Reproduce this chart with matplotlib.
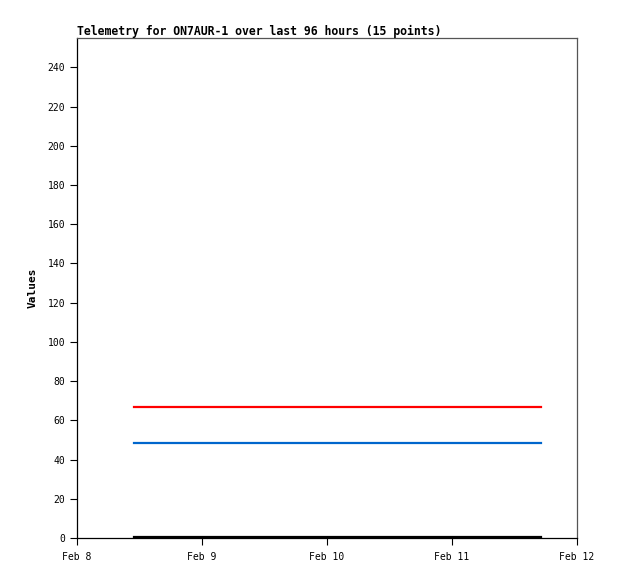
import matplotlib
matplotlib.use("Agg")
import matplotlib.pyplot as plt
import matplotlib.dates as mdates
from datetime import datetime

# telemetry samples (15 points), values constant over the window
times = ["2024-02-08 10:56", "2024-02-08 16:40", "2024-02-08 22:15", "2024-02-09 04:02",
         "2024-02-09 09:48", "2024-02-09 15:30", "2024-02-09 21:12", "2024-02-10 02:55",
         "2024-02-10 08:40", "2024-02-10 14:22", "2024-02-10 20:05", "2024-02-11 01:50",
         "2024-02-11 07:33", "2024-02-11 12:10", "2024-02-11 17:05"]
red_vals = [67] * 15
blue_vals = [48.3] * 15
black_vals = [0.4] * 15

dates = [datetime.strptime(t, "%Y-%m-%d %H:%M") for t in times]

plt.rcParams['font.family'] = ['DejaVu Sans Mono']

fig = plt.figure(figsize=(6.18, 5.79), dpi=100)
ax = fig.add_axes([77/618, 1-538/579, 500/618, 500/579])

ax.plot(dates, red_vals, color="#ff0000", lw=1.6)
ax.plot(dates, blue_vals, color="#0066cc", lw=1.6)
ax.plot(dates, black_vals, color="#000000", lw=1.6)

ax.set_xlim(datetime(2024, 2, 8), datetime(2024, 2, 12))
ax.set_ylim(0, 255)
ax.set_yticks(range(0, 241, 20))
ax.xaxis.set_major_locator(mdates.DayLocator())
ax.xaxis.set_major_formatter(mdates.DateFormatter("%b %-d"))

ax.tick_params(labelsize=7, length=5, width=0.8, color="black")
ax.tick_params(axis="x", pad=5)
for s in ["top", "right"]:
    ax.spines[s].set_color("#555555")
for s in ax.spines.values():
    s.set_linewidth(0.9)

ax.set_ylabel("Values", fontsize=8, fontweight="bold", labelpad=7)
ax.set_title("Telemetry for ON7AUR-1 over last 96 hours (15 points)",
             fontsize=8.3, fontweight="bold", loc="left", pad=2)

fig.savefig("out.png", dpi=100)
